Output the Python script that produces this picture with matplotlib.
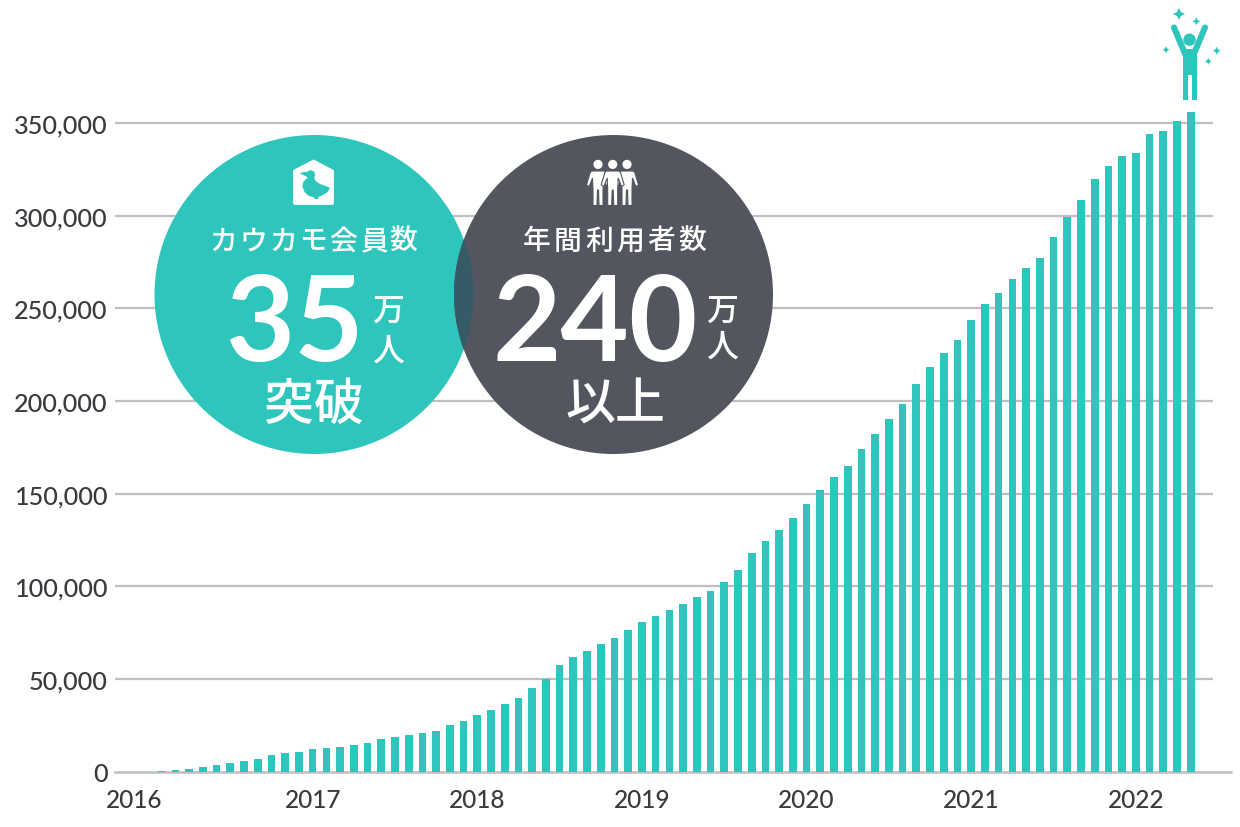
import matplotlib
matplotlib.use("Agg")
import matplotlib.pyplot as plt
from matplotlib.patches import Circle, Polygon

# members per month, Jan 2016 to May 2022
members = [
    0, 100, 700, 1440, 2340, 3600, 4680, 5400, 6650, 9170, 9900, 10600,
    12050, 12770, 13300, 14200, 15470, 17450, 18700, 19800, 20860, 22100, 25000, 27340,
    30400, 33280, 36160, 39760, 45160, 50000, 57570, 61530, 64950, 68720, 72140, 76280,
    80770, 84000, 87250, 90480, 94100, 97500, 102350, 109000, 117800, 124300, 130600, 136800,
    144500, 152000, 158700, 165000, 174150, 182250, 190350, 198600, 209250, 218250, 225600, 233000,
    243800, 252250, 258500, 266000, 271700, 277400, 288700, 299500, 308200, 320000, 326700, 332450,
    333900, 344200, 345600, 351000, 355900,
]
years = ["2016", "2017", "2018", "2019", "2020", "2021", "2022"]
y_ticks = [0, 50000, 100000, 150000, 200000, 250000, 300000, 350000]

TEAL = "#2ec6bc"
DARK = "#53565f"
OVERLAP = "#355b66"
GRID = "#bfbfc1"
TEXT = "#3a3a3f"
JP = ["Noto Sans CJK JP", "DejaVu Sans"]

W, H = 1240, 828
fig = plt.figure(figsize=(W / 100, H / 100), dpi=100)
fig.patch.set_facecolor("white")

# ── Chart axes, placed by pixel edges ─────────────────────────────────────────
L, R, B, T = 115, 1231, 772.5, 100
ax = fig.add_axes([L / W, 1 - B / H, (R - L) / W, (B - T) / H])
ax.set_xlim((L - 148) / 13.72, (R - 148) / 13.72)
ax.set_ylim(0, (B - T) * 539.7)
ax.bar(range(len(members)), members, width=0.56, color=TEAL, zorder=3)
ax.hlines(y_ticks[1:], ax.get_xlim()[0], (1213 - 148) / 13.72, color=GRID, lw=1.6, zorder=1)

for side in ["top", "left", "right"]:
    ax.spines[side].set_visible(False)
ax.spines["bottom"].set_color(GRID)
ax.spines["bottom"].set_linewidth(1.8)
ax.set_yticks(y_ticks, [f"{v:,}" for v in y_ticks])
# 2016 sits slightly left of its January bar in the original
ax.set_xticks([-1, 12, 24, 36, 48, 60, 72], years)
ax.tick_params(axis="y", length=0, labelsize=18.2, labelcolor=TEXT, pad=5.4)
ax.tick_params(axis="x", length=0, labelsize=17.6, labelcolor=TEXT, pad=12)
for lab in ax.get_xticklabels() + ax.get_yticklabels():
    lab.set_family("Lato")
    lab.set_fontweight("medium")
for lab in ax.get_yticklabels():
    lab.set_verticalalignment("center_baseline")

# ── Overlay in pixel coordinates for the badges and icons ─────────────────────
ov = fig.add_axes([0, 0, 1, 1], zorder=5)
ov.set_xlim(0, W)
ov.set_ylim(H, 0)
ov.axis("off")
ov.patch.set_alpha(0)

ov.add_patch(Circle((314, 295.5), 159.5, fc=TEAL, ec="none"))
ov.add_patch(Circle((613.5, 295.5), 159.5, fc=DARK, ec="none"))
lens = Circle((613.5, 295.5), 159.5, fc=OVERLAP, ec="none")
ov.add_patch(lens)
lens.set_clip_path(Circle((314, 295.5), 159.5, transform=ov.transData))


def spaced(cx, y, s, pitch, size):
    x0 = cx - pitch * (len(s) - 1) / 2
    for i, ch in enumerate(s):
        ov.text(x0 + i * pitch, y + 3, ch, color="white", fontsize=size, family=JP,
                ha="center", va="center", fontweight="medium")


spaced(313.5, 238, "カウカモ会員数", 30, 20)
spaced(614.5, 238, "年間利用者数", 31, 20)
ov.text(294, 327, "35", color="white", fontsize=86, family="Lato", fontweight="bold", ha="center", va="center")
ov.text(595, 327, "240", color="white", fontsize=85, family="Lato", fontweight="bold", ha="center", va="center")
spaced(388, 310, "万", 0, 23)
spaced(388, 349, "人", 0, 23)
spaced(722, 310, "万", 0, 23)
spaced(722, 345, "人", 0, 23)
spaced(313.5, 403, "突破", 50, 36)
spaced(615, 402, "以上", 50, 36)


def person(cx, top):
    # one standing figure of the group icon
    ov.add_patch(Circle((cx, top + 4.4), 4.6, fc="white", ec="none"))
    body = [(-6.5, 11), (6.5, 11), (8, 13), (11.5, 25), (8.8, 26.5), (5.5, 18), (5, 30), (5, 45.5),
            (1, 45.5), (0.5, 30), (-0.5, 30), (-1, 45.5), (-5, 45.5), (-5, 30), (-5.5, 18),
            (-8.8, 26.5), (-11.5, 25), (-8, 13)]
    ov.add_patch(Polygon([(cx + x, top + y) for x, y in body], fc="white", ec=DARK, lw=0.8))


for px in [598, 627, 612.7]:
    person(px, 161)


def duck_pts(pts):
    return [(270 + x / 3, 150 + y / 3) for x, y in pts]


# house with duck
ov.add_patch(Polygon([(294.5, 172), (313.5, 162), (332.5, 172), (332.5, 204.5), (294.5, 204.5)],
                     fc="white", ec="white", lw=2, joinstyle="round"))
ov.add_patch(Circle((310.7, 175.7), 4.4, fc=TEAL, ec="none"))
ov.add_patch(Polygon(duck_pts([(110, 68), (88, 72), (112, 84)]), fc=TEAL, ec="none"))
ov.add_patch(Polygon(duck_pts([(133, 85), (136, 95), (150, 105), (165, 110), (180, 117), (172, 130),
                               (155, 140), (135, 146), (115, 140), (103, 128), (97, 112), (100, 98),
                               (110, 88)]), fc=TEAL, ec="none"))
ov.add_patch(Polygon(duck_pts([(130, 143), (147, 141), (144, 150), (135, 150)]), fc=TEAL, ec="none"))


def sparkle(x, y, r):
    k = 0.33 * r
    pts = [(x, y - r), (x + k, y - k), (x + r, y), (x + k, y + k),
           (x, y + r), (x - k, y + k), (x - r, y), (x - k, y - k)]
    ov.add_patch(Polygon(pts, fc=TEAL, ec="none"))


# cheering figure above the last bar
ov.add_patch(Circle((1189.5, 40.7), 6.2, fc=TEAL, ec="none"))
ov.add_patch(Polygon([(1183, 50), (1196.5, 50), (1196.5, 100.5), (1192, 100.5), (1192, 76),
                      (1187.5, 76), (1187.5, 100.5), (1183, 100.5)], fc=TEAL, ec="none"))
for x0, x1 in [(1174, 1186), (1205, 1193)]:
    ov.plot([x0, x1], [28.5, 57], color=TEAL, lw=4.4, solid_capstyle="round")
for x, y, r in [(1179, 15, 6), (1196.3, 22.3, 4), (1166, 50.7, 3.5), (1216.7, 51.7, 4), (1208.3, 62.3, 3.5)]:
    sparkle(x, y, r)

fig.savefig("out.png", dpi=100, facecolor="white")
